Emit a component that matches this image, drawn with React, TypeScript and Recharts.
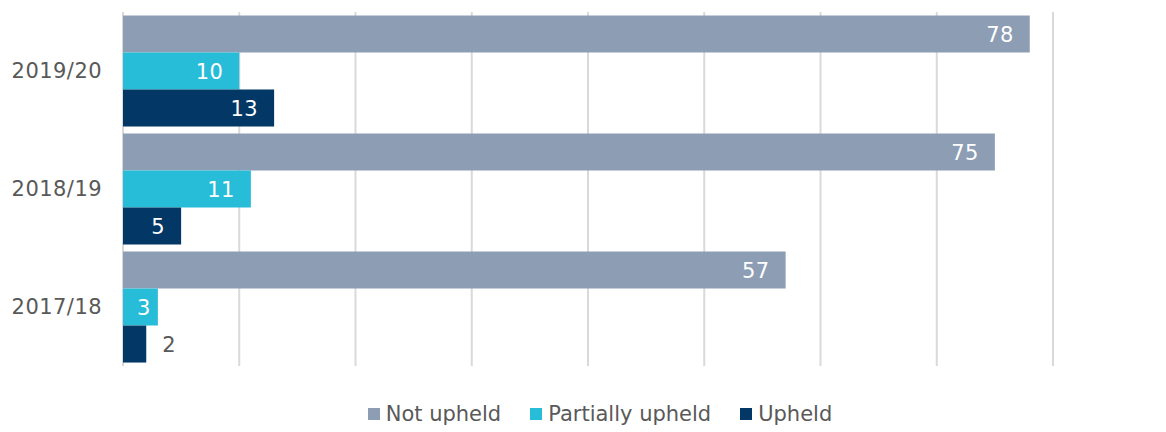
import { BarChart, Bar, XAxis, YAxis, CartesianGrid, Legend, LabelList } from 'recharts'

const years = ['2019/20', '2018/19', '2017/18']
const notUpheld = [78, 75, 57]
const partiallyUpheld = [10, 11, 3]
const upheld = [13, 5, 2]
const xTicks = [0, 10, 20, 30, 40, 50, 60, 70, 80]

const series = [
  { key: 'notUpheld', name: 'Not upheld', color: '#8c9db4' },
  { key: 'partiallyUpheld', name: 'Partially upheld', color: '#27bcd8' },
  { key: 'upheld', name: 'Upheld', color: '#033765' },
]

const data = years.map((year, i) => ({
  year,
  notUpheld: notUpheld[i],
  partiallyUpheld: partiallyUpheld[i],
  upheld: upheld[i],
}))

const FONT = '"DejaVu Sans", Verdana, sans-serif'
const TEXT = '#595959'
const SIZE = 21

// value inside the bar end, or just past it when the bar is too short
function BarValue(props: any) {
  const { x, y, width, height, value } = props
  const inside = width > 30
  const pad = width < 50 ? 7 : 16
  return (
    <text
      x={inside ? x + width - pad : x + width + 16}
      y={y + height / 2}
      dy="0.36em"
      textAnchor={inside ? 'end' : 'start'}
      fill={inside ? '#ffffff' : TEXT}
      fontSize={SIZE}
      fontFamily={FONT}
      letterSpacing={0.4}
    >
      {value}
    </text>
  )
}

function LegendContent() {
  return (
    <div
      style={{
        display: 'flex',
        justifyContent: 'center',
        gap: 29,
        paddingTop: 36,
        paddingLeft: 34,
        fontFamily: FONT,
        fontSize: SIZE,
        color: TEXT,
        lineHeight: '24px',
      }}
    >
      {series.map((s) => (
        <div key={s.key} style={{ display: 'flex', alignItems: 'center' }}>
          <span style={{ width: 12, height: 12, background: s.color, marginRight: 6, display: 'inline-block' }} />
          {s.name}
        </div>
      ))}
    </div>
  )
}

export default function App() {
  return (
    <div style={{ position: 'absolute', left: 0, top: 0, background: '#fff' }}>
      <BarChart
        width={1166}
        height={432}
        data={data}
        layout="vertical"
        margin={{ top: 12, right: 113, left: 0, bottom: 0 }}
        barCategoryGap="3%"
        barGap={0}
      >
        <CartesianGrid horizontal={false} stroke="#d9d9d9" strokeWidth={2} />
        <XAxis type="number" domain={[0, 80]} ticks={xTicks} hide />
        <YAxis
          type="category"
          dataKey="year"
          width={123}
          axisLine={false}
          tickLine={false}
          tickSize={0}
          tickMargin={21}
          tick={{ fontSize: SIZE, fill: TEXT, fontFamily: FONT, letterSpacing: 0.45 }}
        />
        <Legend
          verticalAlign="bottom"
          height={66}
          wrapperStyle={{ left: 0, width: 1166 }}
          content={<LegendContent />}
        />
        {series.map((s) => (
          <Bar key={s.key} dataKey={s.key} name={s.name} fill={s.color} isAnimationActive={false}>
            <LabelList dataKey={s.key} content={<BarValue />} />
          </Bar>
        ))}
      </BarChart>
    </div>
  )
}
